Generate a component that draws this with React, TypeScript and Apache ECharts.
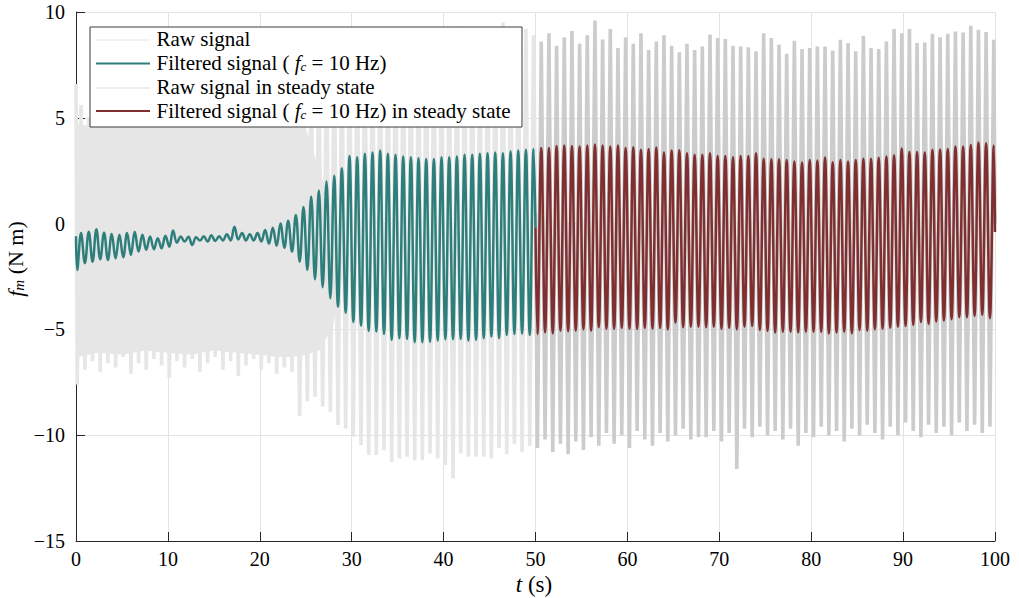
import React, { useEffect, useRef } from "react";
import * as echarts from "echarts";

// ---------- data ----------
// oscillation grid: one cycle per PERIOD seconds, first peak at FIRST_PEAK
const PERIOD = 0.8346;
const FIRST_PEAK = 0.55;

// Filtered signal (fc = 10 Hz), transient part, cycles 0..59 (0–50 s)
const filteredTroughs: number[] = [
  -2.19, -1.87, -1.8, -1.69, -1.72, -1.64, -1.59, -1.48, -1.32, -1.24,
  -1.21, -1.17, -1.09, -0.9, -0.85, -1.01, -0.8, -0.85, -0.82, -0.8,
  -0.8, -0.75, -0.8, -0.8, -0.85, -0.95, -1.05, -1.15, -1.32, -1.8,
  -2.19, -2.63, -3.01, -3.53, -3.93, -4.21, -4.65, -4.82, -5.07, -5.1,
  -5.22, -5.5, -5.42, -5.45, -5.61, -5.61, -5.58, -5.53, -5.47, -5.47,
  -5.45, -5.53, -5.5, -5.42, -5.34, -5.42, -5.27, -5.22, -5.2, -5.27,
];
const filteredPeaks: number[] = [
  -0.45, -0.38, -0.27, -0.43, -0.49, -0.53, -0.45, -0.38, -0.53, -0.61,
  -0.69, -0.58, -0.33, -0.61, -0.62, -0.65, -0.6, -0.55, -0.6, -0.5,
  -0.15, -0.45, -0.5, -0.45, -0.3, -0.2, 0.0, 0.14, 0.41, 0.78,
  1.28, 1.56, 1.99, 2.26, 2.62, 3.2, 3.14, 3.3, 3.36, 3.45,
  3.3, 3.25, 3.17, 3.14, 3.09, 3.05, 3.05, 3.14, 3.14, 3.17,
  3.25, 3.25, 3.3, 3.33, 3.36, 3.33, 3.41, 3.45, 3.49, 3.52,
];
const filteredStartValue = -0.6;
const filteredJoinValue = -0.19; // value at t = 50 s

// Filtered signal in steady state, cycles 60..119 (50–100 s)
const steadyTroughs: number[] = [
  -5.22, -5.14, -5.19, -5.06, -5.09, -5.06, -5.0, -5.06, -4.9, -4.97,
  -4.97, -4.93, -4.97, -4.98, -4.93, -4.97, -4.93, -5.0, -4.68, -4.9,
  -4.87, -4.87, -4.9, -4.87, -4.98, -4.93, -5.0, -4.87, -4.84, -5.03,
  -5.07, -5.15, -5.11, -5.11, -5.14, -5.11, -5.11, -5.11, -5.19, -5.15,
  -5.11, -5.19, -5.03, -5.06, -5.0, -4.97, -4.92, -4.87, -4.84, -4.79,
  -4.65, -4.74, -4.63, -4.58, -4.52, -4.43, -4.43, -4.36, -4.31, -4.47,
];
const steadyPeaks: number[] = [
  3.57, 3.57, 3.67, 3.69, 3.67, 3.64, 3.69, 3.74, 3.69, 3.64,
  3.69, 3.57, 3.61, 3.49, 3.52, 3.6, 3.36, 3.45, 3.47, 3.33,
  3.25, 3.25, 3.33, 3.2, 3.2, 3.14, 3.2, 3.2, 3.33, 3.06,
  3.04, 3.04, 3.01, 2.93, 2.89, 3.01, 2.98, 3.12, 2.9, 3.01,
  2.93, 3.01, 3.06, 3.06, 3.11, 3.17, 3.23, 3.55, 3.38, 3.38,
  3.36, 3.49, 3.5, 3.53, 3.64, 3.64, 3.72, 3.83, 3.8, 3.69,
];
const steadyEndValue = -0.4;

// Raw signal, per-cycle extremes, cycles 0..59
const rawPeaks: number[] = [
  5.6, 5.0, 5.5, 5.2, 5.6, 4.9, 5.3, 5.7, 5.1, 5.4,
  5.0, 5.6, 5.2, 5.5, 5.0, 5.3, 5.8, 5.1, 5.4, 5.2,
  5.6, 5.3, 5.7, 5.5, 5.9, 6.0, 6.2, 6.5, 6.8, 7.0,
  7.3, 7.6, 7.9, 8.1, 8.3, 8.5, 8.6, 8.8, 8.7, 9.0,
  8.8, 9.1, 8.9, 9.2, 8.8, 9.0, 8.7, 9.1, 8.9, 9.3,
  8.8, 9.0, 8.6, 9.2, 8.9, 9.5, 8.8, 9.0, 9.2, 8.9,
];
const rawTroughs: number[] = [
  -7.6, -6.9, -6.5, -7.0, -6.6, -6.8, -6.3, -7.1, -6.6, -6.9,
  -6.4, -6.7, -7.3, -6.5, -6.8, -6.4, -7.0, -6.6, -6.3, -6.9,
  -6.5, -7.2, -6.7, -6.4, -6.9, -6.6, -7.1, -6.8, -7.0, -9.1,
  -8.4, -8.18, -8.66, -8.89, -9.52, -9.68, -10.08, -10.47, -10.94, -10.94,
  -10.71, -11.26, -11.1, -11.02, -11.18, -11.18, -10.86, -11.1, -11.41, -12.04,
  -10.86, -11.02, -11.02, -11.02, -11.1, -10.6, -10.9, -10.4, -10.8, -10.5,
];
const rawStartValue = 6.6;
const rawJoinValue = 0.5;

// dense core of the raw signal (unresolved high-frequency part)
const coreTimes: number[] = [0, 2.5, 5, 7.5, 10, 12.5, 15, 17.5, 20, 22, 23.5, 25, 26.5, 28, 29];
const coreLow: number[] = [-6.3, -6.1, -6.2, -6.0, -6.1, -6.2, -6.0, -6.1, -6.2, -6.3, -6.3, -6.2, -6.0, -4.8, -2.5];
const coreHigh: number[] = [4.7, 4.6, 4.6, 4.6, 4.6, 4.6, 4.6, 4.6, 4.6, 4.6, 4.6, 4.5, 2.5, 0.5, -0.5];

// Raw signal in steady state, per-cycle extremes, cycles 60..119
const rawSteadyPeaks: number[] = [
  8.6, 9.0, 8.4, 8.8, 9.1, 8.5, 8.9, 9.6, 8.7, 9.2,
  8.3, 8.8, 8.5, 9.0, 8.2, 8.6, 8.9, 8.4, 8.1, 8.5,
  8.2, 8.37, 8.93, 8.77, 8.72, 8.41, 8.37, 8.33, 8.14, 9.0,
  8.77, 8.45, 8.03, 8.64, 8.25, 8.3, 8.37, 8.37, 8.18, 8.69,
  8.53, 8.14, 8.88, 8.3, 8.25, 8.6, 9.2, 9.0, 9.2, 8.53,
  8.56, 8.97, 8.81, 8.97, 9.08, 9.03, 9.35, 9.16, 9.05, 8.69,
];
const rawSteadyTroughs: number[] = [
  -10.6, -10.2, -10.8, -10.4, -10.9, -10.3, -10.7, -10.1, -10.5, -9.9,
  -10.4, -10.0, -10.6, -9.8, -10.2, -10.5, -9.9, -10.3, -10.0, -9.7,
  -10.2, -10.1, -10.1, -9.8, -10.3, -9.9, -11.6, -9.7, -10.1, -9.6,
  -10.0, -9.8, -10.2, -9.7, -10.5, -9.9, -10.1, -9.6, -10.0, -9.8,
  -10.3, -9.7, -10.0, -9.5, -9.9, -10.2, -9.6, -10.0, -9.4, -9.8,
  -10.1, -9.5, -9.9, -9.6, -10.0, -9.4, -9.8, -9.5, -9.9, -9.6,
];
const rawSteadyEndValue = 0.0;

const legendLabels = [
  "Raw signal",
  "Filtered signal (fc = 10 Hz)",
  "Raw signal in steady state",
  "Filtered signal (fc = 10 Hz) in steady state",
];

// ---------- styles ----------
const FONT = "'Liberation Serif', 'Times New Roman', Times, serif";
const RAW_COLOR = "#e6e6e6";
const RAW_STEADY_COLOR = "#cccccc";
const TEAL = "#2e7f7b";
const RED = "#7f2f2f";
const AXIS_COLOR = "#262626";

function buildCycles(
  firstCycle: number,
  troughs: number[],
  peaks: number[],
  tStart: number,
  vStart: number,
  tEnd: number,
  vEnd: number
): number[][] {
  const pts: number[][] = [[tStart, vStart]];
  for (let i = 0; i < troughs.length; i++) {
    const tp = FIRST_PEAK + (firstCycle + i) * PERIOD;
    pts.push([+(tp - PERIOD / 2).toFixed(3), troughs[i]]);
    pts.push([+tp.toFixed(3), peaks[i]]);
  }
  pts.push([tEnd, vEnd]);
  return pts;
}

export default function App() {
  const ref = useRef<HTMLDivElement>(null);

  useEffect(() => {
    document.body.style.margin = "0";
    if (!ref.current) return;
    const chart = echarts.init(ref.current, undefined, { renderer: "svg" });

    const filtered = buildCycles(0, filteredTroughs, filteredPeaks, 0, filteredStartValue, 50, filteredJoinValue);
    const filteredSteady = buildCycles(60, steadyTroughs, steadyPeaks, 50, filteredJoinValue, 100, steadyEndValue);
    const raw = buildCycles(0, rawTroughs, rawPeaks, 0, rawStartValue, 50, rawJoinValue);
    const rawSteady = buildCycles(60, rawSteadyTroughs, rawSteadyPeaks, 50, rawJoinValue, 100, rawSteadyEndValue);

    const rich = (fs: number, sub: number) => ({
      a: { fontFamily: FONT, fontSize: fs, lineHeight: fs, color: "#000" },
      i: { fontFamily: FONT, fontSize: fs, lineHeight: fs, fontStyle: "italic", color: "#000" },
      s: { fontFamily: FONT, fontSize: sub, lineHeight: sub, fontStyle: "italic", verticalAlign: "bottom", color: "#000" },
    });

    const rowY = [40, 63.5, 88, 111];
    const textY = [38.5, 62.5, 86.5, 110.5];
    const sampleColors = [RAW_COLOR, TEAL, "#dcdcdc", RED];
    const sampleWidths = [1, 2.2, 1, 2.2];
    const legendTexts = [
      `{a|${legendLabels[0]}}`,
      "{a|Filtered signal ( }{i|f}{s|c}{a| = 10 Hz)}",
      `{a|${legendLabels[2]}}`,
      "{a|Filtered signal ( }{i|f}{s|c}{a| = 10 Hz) in steady state}",
    ];

    const graphic: any[] = [
      {
        type: "rect",
        z: 100,
        silent: true,
        shape: { x: 90, y: 27, width: 432, height: 100 },
        style: { fill: "#ffffff", stroke: "#3a3a3a", lineWidth: 1 },
      },
    ];
    for (let k = 0; k < 4; k++) {
      graphic.push({
        type: "line",
        z: 101,
        silent: true,
        shape: { x1: 96, y1: rowY[k], x2: 150, y2: rowY[k] },
        style: { stroke: sampleColors[k], lineWidth: sampleWidths[k] },
      });
      graphic.push({
        type: "text",
        z: 101,
        silent: true,
        x: 156.5,
        y: textY[k],
        style: {
          text: legendTexts[k],
          rich: rich(21, 13),
          fontFamily: FONT,
          fontSize: 21,
          fill: "#000",
          align: "left",
          verticalAlign: "middle",
        },
      });
    }
    graphic.push({
      type: "text",
      z: 101,
      silent: true,
      x: 534,
      y: 584,
      style: {
        text: "{i|t}{a| (s)}",
        rich: rich(23, 16),
        fontFamily: FONT,
        fontSize: 23,
        fill: "#000",
        align: "center",
        verticalAlign: "middle",
      },
    });
    graphic.push({
      type: "text",
      z: 101,
      silent: true,
      x: 15,
      y: 259,
      rotation: Math.PI / 2,
      style: {
        text: "{i|f}{s|m}{a| (N m)}",
        rich: rich(22, 15),
        fontFamily: FONT,
        fontSize: 22,
        fill: "#000",
        align: "center",
        verticalAlign: "middle",
      },
    });

    const axisCommon = {
      axisLine: { show: true, onZero: false, lineStyle: { color: AXIS_COLOR, width: 1 } },
      axisTick: { show: true, inside: true, length: 9, lineStyle: { color: AXIS_COLOR, width: 1 } },
      splitLine: { show: true, lineStyle: { color: "#e3e3e3", width: 1 } },
    };

    chart.setOption({
      animation: false,
      grid: { left: 76, right: 24, top: 12, bottom: 57, containLabel: false, outerBoundsMode: "none" } as any,
      xAxis: {
        type: "value",
        min: 0,
        max: 100,
        interval: 10,
        ...axisCommon,
        axisLabel: { color: "#000", fontFamily: FONT, fontSize: 20, margin: 8 },
      },
      yAxis: {
        type: "value",
        min: -15,
        max: 10,
        interval: 5,
        ...axisCommon,
        axisLabel: {
          color: "#000",
          fontFamily: FONT,
          fontSize: 20,
          margin: 11,
          formatter: (v: number) => (v < 0 ? "\u2212" + Math.abs(v) : String(v)),
        },
      },
      series: [
        {
          name: "raw-core",
          type: "custom",
          silent: true,
          z: 1,
          data: [[coreTimes[0], coreLow[0]]],
          renderItem: (_params: any, api: any) => {
            const pts: number[][] = [];
            for (let i = 0; i < coreTimes.length; i++) pts.push(api.coord([coreTimes[i], coreHigh[i]]));
            for (let i = coreTimes.length - 1; i >= 0; i--) pts.push(api.coord([coreTimes[i], coreLow[i]]));
            return { type: "polygon", shape: { points: pts }, style: { fill: RAW_COLOR } };
          },
        },
        {
          name: legendLabels[0],
          type: "line",
          data: raw,
          symbol: "none",
          z: 1,
          lineStyle: { color: RAW_COLOR, width: 3.6, join: "bevel", cap: "butt" },
        },
        {
          name: legendLabels[2],
          type: "line",
          data: rawSteady,
          symbol: "none",
          z: 2,
          lineStyle: { color: RAW_STEADY_COLOR, width: 3.6, join: "bevel", cap: "butt" },
        },
        {
          name: legendLabels[1],
          type: "line",
          data: filtered,
          symbol: "none",
          smooth: 0.4,
          z: 3,
          lineStyle: { color: TEAL, width: 2.5, join: "round" },
        },
        {
          name: legendLabels[3],
          type: "line",
          data: filteredSteady,
          symbol: "none",
          smooth: 0.4,
          z: 4,
          lineStyle: { color: RED, width: 2.5, join: "round" },
        },
      ],
      graphic,
    });

    return () => chart.dispose();
  }, []);

  return <div ref={ref} style={{ width: 1019, height: 598 }} />;
}
